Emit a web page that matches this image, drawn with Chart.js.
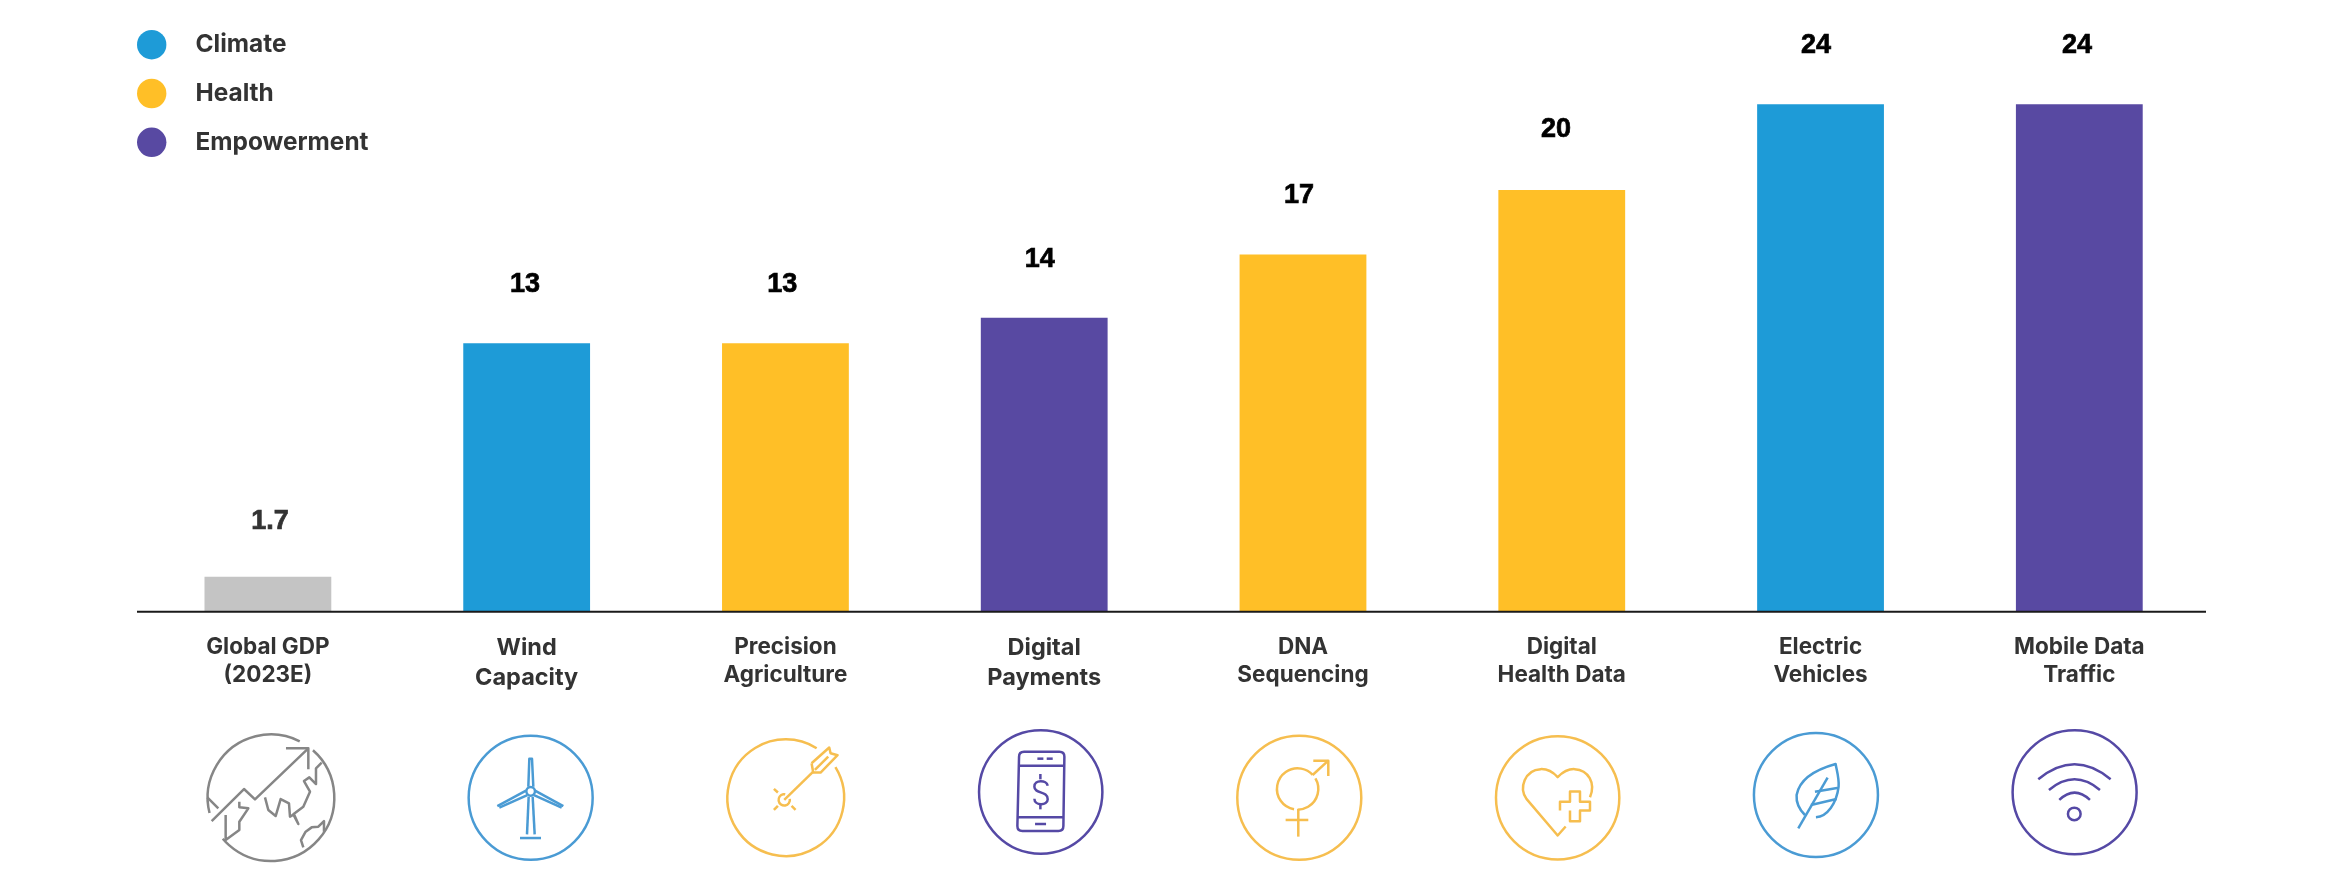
<!DOCTYPE html>
<html>
<head>
<meta charset="utf-8">
<title>Innovation growth rates</title>
<script src="https://cdn.jsdelivr.net/npm/chart.js@4"></script>
<style>
  html, body { margin: 0; padding: 0; background: #fff; }
  canvas { display: block; }
</style>
</head>
<body>
<canvas id="myChart" width="2344" height="888"></canvas>
<script>
// Chart data
const categories = [
  ["Global GDP", "(2023E)"],
  ["Wind", "Capacity"],
  ["Precision", "Agriculture"],
  ["Digital", "Payments"],
  ["DNA", "Sequencing"],
  ["Digital", "Health Data"],
  ["Electric", "Vehicles"],
  ["Mobile Data", "Traffic"],
];
const barValues = [1.65, 12.7, 12.7, 13.9, 16.9, 19.95, 24, 24];
const valueLabels = ["1.7", "13", "13", "14", "17", "20", "24", "24"];
const barGroups = ["GDP", "Climate", "Health", "Empowerment", "Health", "Health", "Climate", "Empowerment"];
const legendNames = ["Climate", "Health", "Empowerment"];

const groupColors = {
  GDP: "#c4c4c4",
  Climate: "#1e9bd7",
  Health: "#ffbf27",
  Empowerment: "#5849a2",
};
const iconColors = {
  GDP: "#868686",
  Climate: "#4a9bd4",
  Health: "#f6be4f",
  Empowerment: "#5549a5",
};

const labelFont = "Inter, sans-serif";
const valueFont = '"Liberation Sans", sans-serif';
// the printed numbers sit a little off the bar centres
const valueLabelShift = [2.1, -1.7, -3.2, -4.5, -4, -5.8, -4.6, -2.4];

// Icons are drawn in 3x units around the middle of their ring
function line(c, pts) {
  c.beginPath();
  pts.forEach((p, i) => (i ? c.lineTo(p[0], p[1]) : c.moveTo(p[0], p[1])));
  c.stroke();
}
function arc(c, x, y, r, from, to) {
  c.beginPath();
  c.arc(x, y, r, (from * Math.PI) / 180, (to * Math.PI) / 180);
  c.stroke();
}
function shift(pts, ox, oy) {
  return pts.map((p) => [p[0] - ox, p[1] - oy]);
}

const icons = [
  {
    // globe with rising arrow
    dx: 3.1, y: 797.7,
    draw(c) {
      arc(c, 0, 0, 190, -48.5, 139.6);
      arc(c, 0, 0, 190, 166, 297);
      const o = [243, 233];
      [
        [[52, 232], [85, 265]],
        [[65, 303], [162, 207], [195, 238], [355, 85]],
        [[288, 85], [355, 85], [355, 148]],
        [[107, 285], [107, 360], [148, 330], [148, 305], [175, 265], [148, 262], [148, 245]],
        [[225, 232], [235, 270], [257, 288], [272, 237], [297, 250], [300, 290], [312, 283], [325, 312], [310, 283], [340, 260], [360, 215], [342, 183], [358, 172], [378, 192], [378, 145], [395, 128]],
        [[340, 382], [333, 360], [347, 335], [365, 322], [385, 320], [402, 303], [402, 335]],
      ].forEach((p) => line(c, shift(p, o[0], o[1])));
    },
  },
  {
    // wind turbine
    dx: 4, y: 797.7,
    draw(c) {
      arc(c, 0, 0, 186, 0, 360);
      arc(c, 0, -19, 13, 0, 360);
      [
        [[-7, -33], [-4, -117], [4, -117], [8, -33]],
        [[-14, -21], [-100, 25]],
        [[-10, -8], [-94, 30]],
        [[13, -21], [98, 25]],
        [[10, -8], [93, 30]],
        [[-6, -3], [-11, 110]],
        [[6, -3], [12, 110]],
        [[-32, 121], [31, 121]],
      ].forEach((p) => line(c, p));
    },
  },
  {
    // arrow in target
    dx: 0.3, y: 797.7,
    draw(c) {
      arc(c, 0, 0, 175, -31.6, 302);
      const o = [257.5, 233.5];
      arc(c, 253 - o[0], 240 - o[1], 17, -10, 280);
      [
        [[253, 240], [340, 155]],
        [[335, 130], [388, 83], [392, 100], [413, 106], [362, 158], [340, 158], [335, 130]],
        [[345, 150], [385, 110]],
        [[222, 207], [234, 218]],
        [[222, 270], [234, 258]],
        [[275, 258], [287, 270]],
      ].forEach((p) => line(c, shift(p, o[0], o[1])));
    },
  },
  {
    // phone with dollar sign
    dx: -3.5, y: 792,
    draw(c) {
      arc(c, 0, 0, 185, 0, 360);
      c.beginPath();
      c.moveTo(-50, -121);
      c.lineTo(56, -121);
      c.quadraticCurveTo(71, -121, 71, -106);
      c.lineTo(68, 102);
      c.quadraticCurveTo(68, 117, 53, 117);
      c.lineTo(-55, 117);
      c.quadraticCurveTo(-70, 117, -70, 102);
      c.lineTo(-65, -106);
      c.quadraticCurveTo(-65, -121, -50, -121);
      c.stroke();
      [
        [[-65, -79], [70, -79]],
        [[-69, 76], [68, 76]],
        [[-10, -100], [8, -100]],
        [[18, -100], [36, -100]],
        [[-17, 96], [16, 96]],
        [[-1, -54], [-1, -38]],
        [[-1, 34], [-1, 52]],
      ].forEach((p) => line(c, p));
      c.beginPath();
      c.moveTo(21, -19);
      c.bezierCurveTo(18, -36, -19, -38, -19, -16);
      c.bezierCurveTo(-19, 6, 21, -4, 21, 22);
      c.bezierCurveTo(21, 42, -19, 42, -19, 20);
      c.stroke();
    },
  },
  {
    // gender symbol
    dx: -3.7, y: 797.8,
    draw(c) {
      arc(c, 0, 0, 186, 0, 360);
      const o = [238, 233.5];
      arc(c, 233 - o[0], 207 - o[1], 62, -30.6, 90);
      arc(c, 233 - o[0], 207 - o[1], 62, 100, 317);
      [
        [[278, 165], [325, 122]],
        [[280, 122], [325, 122], [325, 168]],
        [[235, 267], [235, 350]],
        [[197, 300], [265, 300]],
      ].forEach((p) => line(c, shift(p, o[0], o[1])));
    },
  },
  {
    // heart with cross
    dx: -4.1, y: 797.8,
    draw(c) {
      arc(c, 0, 0, 185, 0, 360);
      c.beginPath();
      c.moveTo(24, 86);
      c.lineTo(0, 113);
      c.lineTo(-93, 4);
      c.bezierCurveTo(-118, -29, -98, -84, -51, -86);
      c.bezierCurveTo(-28, -87, -13, -76, 0, -62);
      c.bezierCurveTo(15, -77, 29, -87, 51, -86);
      c.bezierCurveTo(92, -84, 115, -44, 97, -2);
      c.stroke();
      line(c, [[7, 38], [7, 12], [37, 12], [37, -19], [67, -19], [67, 12], [97, 12], [97, 38], [67, 38], [67, 70], [37, 70], [37, 38]]);
    },
  },
  {
    // leaf
    dx: -4.6, y: 795,
    draw(c) {
      arc(c, 0, 0, 186, 0, 360);
      line(c, [[-53, 100], [35, -52]]);
      c.beginPath();
      c.moveTo(0, 67);
      c.bezierCurveTo(34, 65, 62, 25, 68, -25);
      c.bezierCurveTo(70, -50, 62, -75, 59, -93);
      c.bezierCurveTo(12, -80, -48, -55, -58, 0);
      c.bezierCurveTo(-60, 25, -48, 45, -33, 60);
      c.stroke();
      line(c, [[-3, -10], [68, -22]]);
      line(c, [[-15, 30], [62, 12]]);
    },
  },
  {
    // wifi
    dx: -4.7, y: 792.3,
    draw(c) {
      arc(c, 0, 0, 186, 0, 360);
      [
        [-109, -39, 0, -129, 108, -39],
        [-77, -7, 0, -71, 76, -7],
        [-46, 23, 0, -21, 46, 23],
      ].forEach((a) => {
        c.beginPath();
        c.moveTo(a[0], a[1]);
        c.quadraticCurveTo(a[2], a[3], a[4], a[5]);
        c.stroke();
      });
      arc(c, -1, 65, 19, 0, 360);
    },
  },
];

// Baseline, value labels, legend and icon row
const decorations = {
  id: "decorations",
  afterDatasetsDraw(chart) {
    const c = chart.ctx;
    const x = chart.scales.x;
    const y = chart.scales.y;
    const meta = chart.getDatasetMeta(0);

    c.save();
    c.strokeStyle = "#1a1a1a";
    c.lineWidth = 2;
    c.beginPath();
    c.moveTo(137, y.getPixelForValue(0));
    c.lineTo(2206, y.getPixelForValue(0));
    c.stroke();

    c.font = "bold 27px " + valueFont;
    c.textAlign = "center";
    c.textBaseline = "middle";
    c.lineWidth = 0.7;
    meta.data.forEach((bar, i) => {
      const color = i === 0 ? "#333333" : "#000000";
      const lx = bar.x + valueLabelShift[i];
      const ly = bar.y - (i === 0 ? 55.5 : i === 5 ? 60.5 : 58.5);
      c.fillStyle = color;
      c.strokeStyle = color;
      c.fillText(valueLabels[i], lx, ly);
      c.strokeText(valueLabels[i], lx, ly);
    });

    c.textAlign = "left";
    c.font = "700 24.4px " + labelFont;
    legendNames.forEach((name, i) => {
      const ly = 44.7 + i * 48.8;
      c.fillStyle = groupColors[name];
      c.beginPath();
      c.arc(151.7, ly, 14.7, 0, Math.PI * 2);
      c.fill();
      c.fillStyle = "#333333";
      c.fillText(name, 195.5, ly);
    });

    icons.forEach((icon, i) => {
      c.save();
      c.translate(x.getPixelForValue(i) + icon.dx, icon.y);
      c.scale(1 / 3, 1 / 3);
      c.strokeStyle = iconColors[barGroups[i]];
      c.lineWidth = 7.5;
      c.lineJoin = "round";
      icon.draw(c);
      c.restore();
    });
    c.restore();
  },
};

const ctx = document.getElementById("myChart");
const myChart = new Chart(ctx, {
  type: "bar",
  data: {
    labels: categories,
    datasets: [
      {
        data: barValues,
        backgroundColor: barGroups.map((g) => groupColors[g]),
        barPercentage: 0.49,
        categoryPercentage: 1,
      },
    ],
  },
  options: {
    responsive: false,
    animation: false,
    layout: { padding: { left: 138.5, right: 135.3, top: 19.8, bottom: 0 } },
    plugins: { legend: { display: false }, tooltip: { enabled: false } },
    scales: {
      x: {
        afterFit: (scale) => {
          scale.height = 276.3;
        },
        grid: { display: false },
        border: { display: false },
        ticks: {
          autoSkip: false,
          maxRotation: 0,
          padding: 13,
          color: "#333333",
          font: (context) => ({
            family: labelFont,
            weight: 700,
            size: context.index === 1 || context.index === 3 ? 23.5 : 22.5,
            lineHeight: 1.27,
          }),
        },
      },
      y: { display: false, min: 0, max: 28 },
    },
  },
  plugins: [decorations],
});
</script>
</body>
</html>
